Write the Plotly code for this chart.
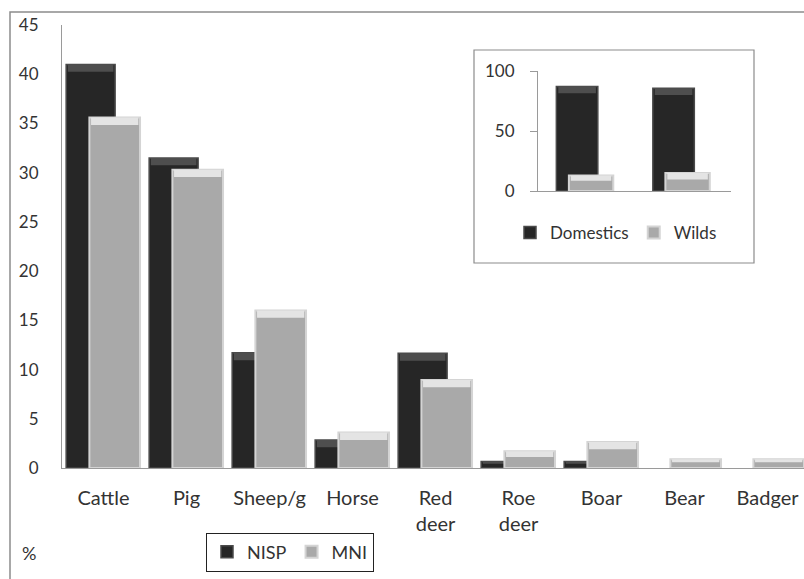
import plotly.graph_objects as go

# Faunal spectrum: share of each taxon by NISP and MNI (%)
taxa = ["Cattle", "Pig", "Sheep/g", "Horse", "Red<br>deer", "Roe<br>deer", "Boar", "Bear", "Badger"]
nisp = [41.0, 31.5, 11.7, 2.85, 11.65, 0.65, 0.65, 0.0, 0.0]
mni = [35.6, 30.3, 16.0, 3.6, 8.95, 1.7, 2.65, 0.9, 0.9]

# Inset: domestic vs wild share, for NISP and MNI counts
inset_groups = ["NISP", "MNI"]
domestics = [87.0, 85.6]
wilds = [13.0, 14.9]

DARK = "#262626"
DARK_TOP = "#4e4e4e"
LIGHT = "#a9a9a9"
LIGHT_TOP = "#e4e4e4"
TEXT = "#333333"
AXIS = "#9a9a9a"
FONT = "Lato, 'Open Sans', sans-serif"

W, H = 804, 579
L, R, T, B = 62, 0, 25, 111
pw, ph = W - L - R, H - T - B
CAT_PX = 83.0  # width of one category slot in pixels


def px_x(x):
    return (x - L) / pw


def px_y(y):
    return (H - B - y) / ph


def edge_widths(values, w):
    # no outline on empty bars, so a zero value leaves nothing on the baseline
    return [w if v > 0 else 0 for v in values]


def bevel(fig, cats, values, depth, color, offset, width, **axes):
    # lighter cap along the top of each bar, giving the bevelled look
    caps = [min(depth, 0.35 * v) for v in values]
    fig.add_trace(go.Bar(
        x=cats, y=caps, base=[v - c for v, c in zip(values, caps)],
        marker=dict(color=color, line=dict(width=0)),
        offset=offset + 0.02, width=width - 0.04,
        showlegend=False, hoverinfo="skip", **axes,
    ))


fig = go.Figure()

fig.add_trace(go.Bar(
    x=taxa, y=nisp, name="NISP",
    marker=dict(color=DARK, line=dict(color="#4a4a4a", width=edge_widths(nisp, 1.5))),
    offset=-0.45, width=0.59, legend="legend",
))
bevel(fig, taxa, nisp, 0.75, DARK_TOP, -0.45, 0.59)
fig.add_trace(go.Bar(
    x=taxa, y=mni, name="MNI",
    marker=dict(color=LIGHT, line=dict(color="#d4d4d4", width=edge_widths(mni, 2))),
    offset=-0.17, width=0.61, legend="legend",
))
bevel(fig, taxa, mni, 0.75, LIGHT_TOP, -0.17, 0.61)

fig.add_trace(go.Bar(
    x=inset_groups, y=domestics, name="Domestics", xaxis="x2", yaxis="y2",
    marker=dict(color=DARK, line=dict(color="#4a4a4a", width=1.5)),
    offset=-0.31, width=0.43, legend="legend2",
))
bevel(fig, inset_groups, domestics, 5.5, DARK_TOP, -0.31, 0.43, xaxis="x2", yaxis="y2")
fig.add_trace(go.Bar(
    x=inset_groups, y=wilds, name="Wilds", xaxis="x2", yaxis="y2",
    marker=dict(color=LIGHT, line=dict(color="#d4d4d4", width=2)),
    offset=-0.18, width=0.46, legend="legend2",
))
bevel(fig, inset_groups, wilds, 5.5, LIGHT_TOP, -0.18, 0.46, xaxis="x2", yaxis="y2")

fig.update_layout(
    width=W, height=H,
    margin=dict(l=L, r=R, t=T, b=B, pad=0),
    paper_bgcolor="white", plot_bgcolor="white",
    barmode="overlay",
    font=dict(family=FONT, color=TEXT, size=15),
    xaxis=dict(
        range=[-0.5, -0.5 + pw / CAT_PX],
        showline=True, linecolor=AXIS, linewidth=1,
        ticks="", showgrid=False, zeroline=False, tickangle=0,
        tickfont=dict(size=20, color=TEXT),
        ticklabelstandoff=12,
    ),
    yaxis=dict(
        range=[0, 45], dtick=5, showline=True, linecolor=AXIS, linewidth=1,
        ticks="", showgrid=False, zeroline=False,
        tickfont=dict(size=17, color=TEXT),
        ticklabelstandoff=19,
    ),
    xaxis2=dict(
        domain=[px_x(538), px_x(731)], anchor="y2", range=[-0.5, 1.5],
        showline=True, linecolor=AXIS, showticklabels=False, ticks="",
        showgrid=False, zeroline=False,
    ),
    yaxis2=dict(
        domain=[px_y(191), px_y(71)], anchor="x2", range=[0, 100], dtick=50,
        showline=True, linecolor=AXIS, ticks="outside", ticklen=7, tickcolor=AXIS,
        showgrid=False, zeroline=False, tickfont=dict(size=17, color=TEXT),
        ticklabelstandoff=12,
    ),
    legend=dict(
        orientation="h", x=px_x(290), y=px_y(552), xanchor="center", yanchor="middle",
        bordercolor="#222222", borderwidth=1, bgcolor="white",
        font=dict(size=18, color=TEXT), itemwidth=30,
    ),
    legend2=dict(
        orientation="h", x=px_x(616), y=px_y(233), xanchor="center", yanchor="middle",
        borderwidth=0, bgcolor="rgba(0,0,0,0)",
        font=dict(size=17, color=TEXT), itemwidth=30,
    ),
    showlegend=True,
)

# Outer chart frame and inset frame
fig.add_shape(type="rect", xref="paper", yref="paper",
              x0=px_x(10), x1=px_x(W + 40), y0=px_y(H + 40), y1=px_y(12),
              line=dict(color="#8c8c8c", width=1.5), layer="below")
fig.add_shape(type="rect", xref="paper", yref="paper",
              x0=px_x(474), x1=px_x(754), y0=px_y(263), y1=px_y(50),
              line=dict(color="#8c8c8c", width=1.2), fillcolor="white", layer="below")

fig.add_annotation(text="%", xref="paper", yref="paper", x=px_x(29), y=px_y(553),
                   showarrow=False, font=dict(size=18, color=TEXT),
                   xanchor="center", yanchor="middle")

fig.write_html("out.html")
